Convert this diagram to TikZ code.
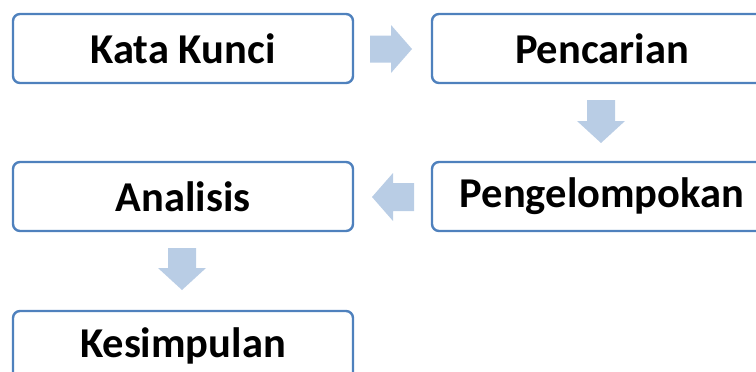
\documentclass[tikz,border=0pt]{standalone}
\usepackage{fontspec}
\setmainfont{Carlito}
\begin{document}
\begin{tikzpicture}[x=1pt,y=-1pt,
  box/.style={draw=boxblue, line width=2.4pt, rounded corners=7pt, fill=white,
    minimum width=340pt, minimum height=69pt, inner sep=0pt,
    font=\fontsize{42.5}{50}\selectfont\bfseries, text=black},
  flow/.style={fill=arrowfill, draw=none}]
\definecolor{boxblue}{HTML}{4F81BD}
\definecolor{arrowfill}{HTML}{B9CDE5}
\useasboundingbox (0,0) rectangle (756,372);
\node[box] (kata) at (183,48.5) {Kata Kunci};
\node[box] (cari) at (602,48.5) {Pencarian};
\node[box] (kelompok) at (602,196.5) {Pengelompokan};
\node[box] (analisis) at (183,196.5) {Analisis};
\node[box] (simpul) at (183,345.5) {Kesimpulan};
% right arrow kata -> cari
\fill[flow] (370,35.5) -- (391,35.5) -- (391,25) -- (412,49) -- (391,73) -- (391,62.5) -- (370,62.5) -- cycle;
% down arrow cari -> kelompok
\fill[flow] (587,100) -- (615,100) -- (615,121) -- (625,121) -- (601,143) -- (577,121) -- (587,121) -- cycle;
% left arrow kelompok -> analisis
\fill[flow] (414,183) -- (393,183) -- (393,173) -- (372,197) -- (393,221) -- (393,211) -- (414,211) -- cycle;
% down arrow analisis -> simpul
\fill[flow] (168,248) -- (196,248) -- (196,268) -- (206,268) -- (182,290) -- (158,268) -- (168,268) -- cycle;
\end{tikzpicture}
\end{document}
